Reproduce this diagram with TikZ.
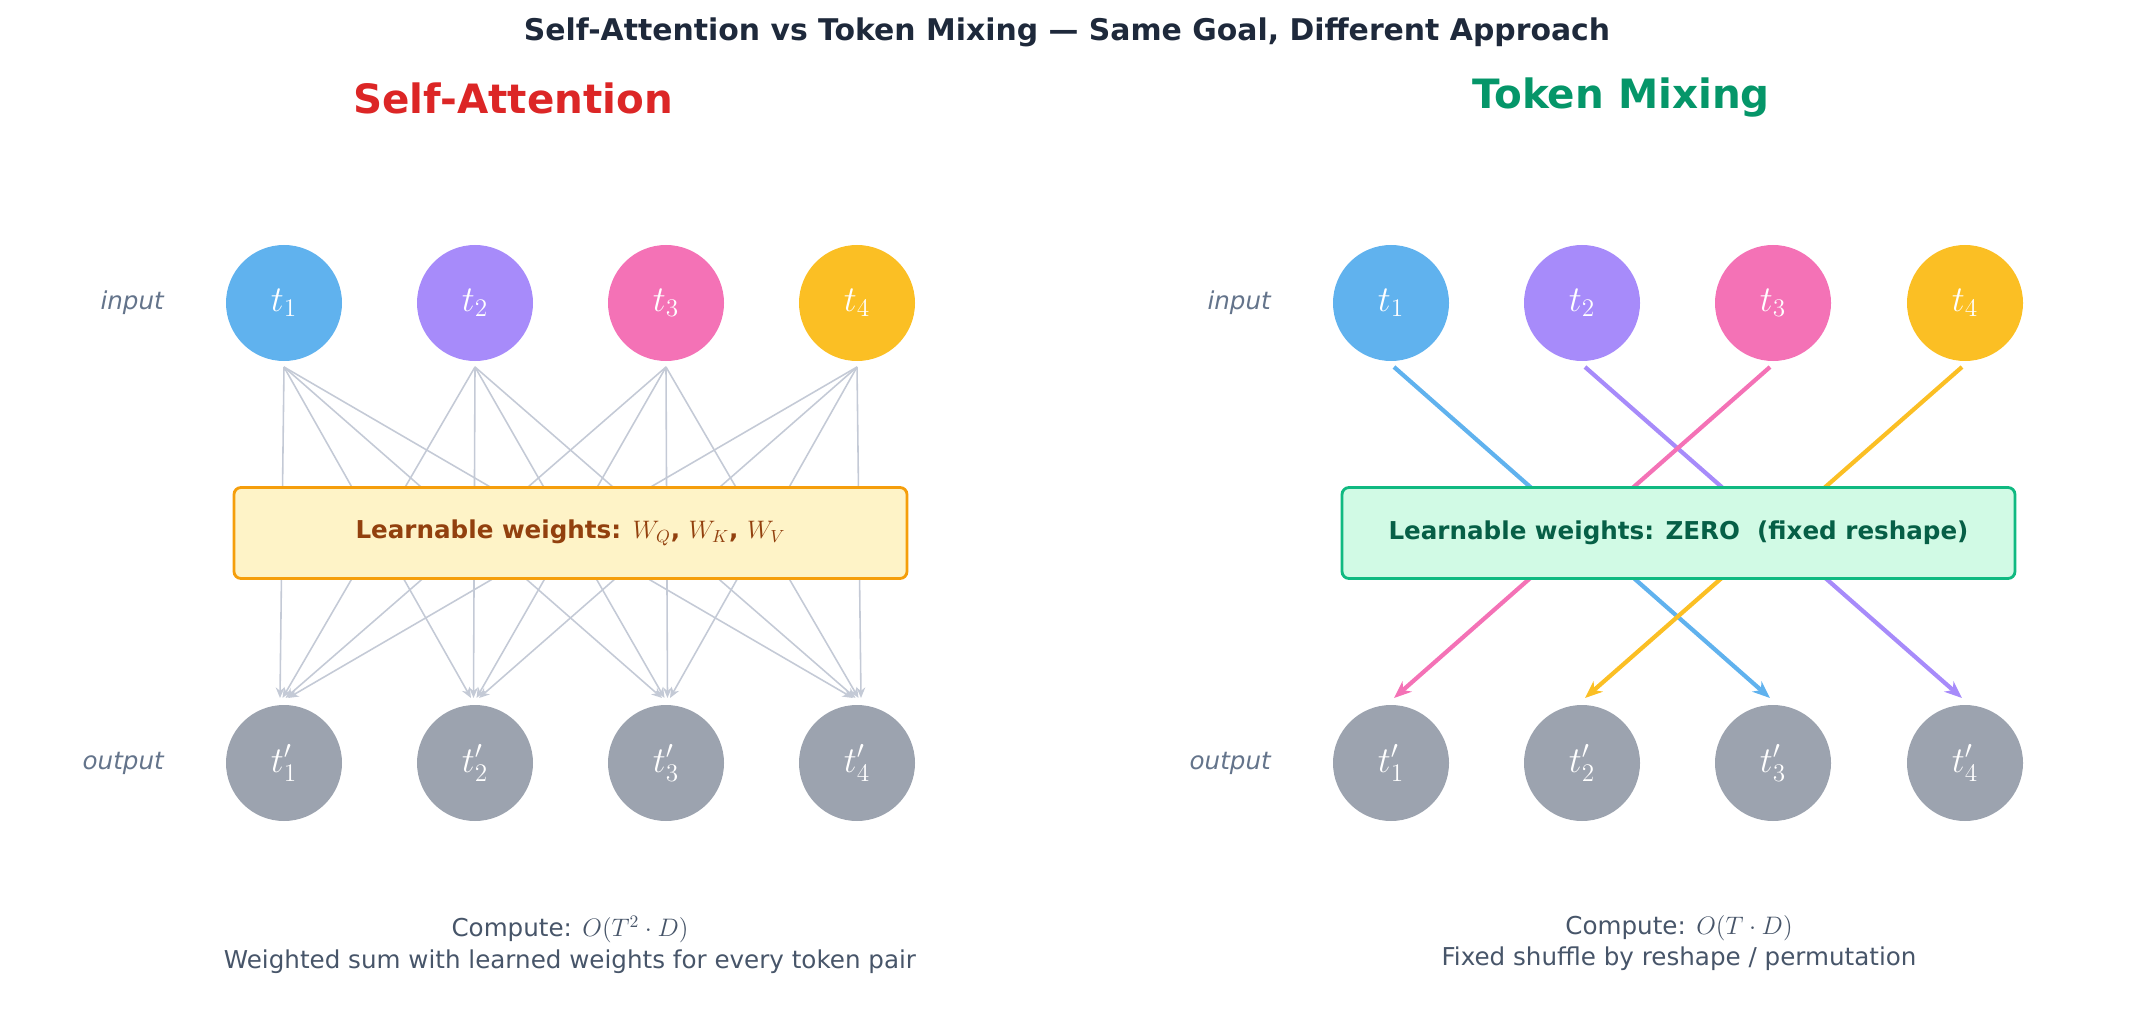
\documentclass[tikz,border=0pt]{standalone}
\usepackage{fontspec}
\setmainfont{DejaVu Sans}
\usetikzlibrary{arrows.meta,calc}
\definecolor{cA}{HTML}{60B2EE}
\definecolor{cB}{HTML}{A78BFA}
\definecolor{cC}{HTML}{F472B6}
\definecolor{cD}{HTML}{FBBF24}
\definecolor{cO}{HTML}{9CA3AF}
\definecolor{lbl}{HTML}{64748B}
\definecolor{ttl}{HTML}{1E293B}
\definecolor{bot}{HTML}{475569}
\definecolor{ln}{HTML}{C4CAD6}
\definecolor{hred}{HTML}{DC2626}
\definecolor{hgrn}{HTML}{059669}
\definecolor{yb}{HTML}{F59E0B}
\definecolor{yf}{HTML}{FEF3C7}
\definecolor{yt}{HTML}{92400E}
\definecolor{gb}{HTML}{10B981}
\definecolor{gf}{HTML}{D1FAE5}
\definecolor{gt}{HTML}{065F46}
\tikzset{
 tok/.style={circle,minimum size=116*0.02cm,inner sep=0pt,text=white,font=\fontsize{21}{24}\selectfont},
 side/.style={anchor=east,text=lbl,font=\fontsize{14}{16}\selectfont\itshape},
 thin/.style={ln,line width=0.9pt,-{Stealth[length=6pt,width=5pt]}},
 thick/.style={line width=2.4pt,-{Stealth[length=10pt,width=8pt]}},
 note/.style={text=bot,font=\fontsize{14}{18}\selectfont,align=center},
 wbox/.style={line width=1.6pt,rounded corners=4pt,minimum width=673*0.02cm,minimum height=91*0.02cm,font=\fontsize{14}{16}\selectfont\bfseries}
}
\begin{document}
\begin{tikzpicture}[x=0.02cm,y=-0.02cm]
\useasboundingbox (0,0) rectangle (2134,1027);
\node[text=ttl,font=\fontsize{17}{20}\selectfont\bfseries] (title) at (1067,32) {Self-Attention vs Token Mixing — Same Goal, Different Approach};
\node[text=hred,font=\fontsize{23}{26}\selectfont\bfseries] (hl) at (513,98) {Self-Attention};
\node[text=hgrn,font=\fontsize{23}{26}\selectfont\bfseries] (hr) at (1621,98) {Token Mixing};
% left
\foreach \i/\x/\c in {1/284/cA,2/475/cB,3/666/cC,4/857/cD}{
 \node[tok,fill=\c] (a\i) at (\x,303) {$t_{\i}$};
 \node[tok,fill=cO] (b\i) at (\x,763) {$t'_{\i}$};
 \coordinate (as\i) at (\x,367);
}
\foreach \i/\x in {1/284,2/475,3/666,4/857}{
 \foreach \j/\d in {1/-8,2/-3,3/3,4/8}{
  \coordinate (e\i\j) at (\x+\d*0.5,698);
 }
}
\foreach \i in {1,...,4}{\foreach \j in {1,...,4}{\draw[thin] (as\i) -- (e\j\i);}}
\node[side] (inl) at (170,303) {input};
\node[side] (outl) at (170,763) {output};
\node[wbox,draw=yb,fill=yf,text=yt] (bl) at (570.5,533) {Learnable weights: $W_Q$, $W_K$, $W_V$};
\node[note] (nl) at (570,945) {Compute: $O(T^2\cdot D)$\\Weighted sum with learned weights for every token pair};
% right
\foreach \i/\x/\c in {1/1391/cA,2/1582/cB,3/1773/cC,4/1965/cD}{
 \node[tok,fill=\c] (c\i) at (\x,303) {$t_{\i}$};
 \node[tok,fill=cO] (d\i) at (\x,763) {$t'_{\i}$};
 \coordinate (cs\i) at (\x,367);
 \coordinate (de\i) at (\x,698);
}
\draw[thick,cA] ($(cs1)+(3,0)$) -- ($(de3)+(-3,0)$);
\draw[thick,cB] ($(cs2)+(3,0)$) -- ($(de4)+(-3,0)$);
\draw[thick,cC] ($(cs3)+(-3,0)$) -- ($(de1)+(3,0)$);
\draw[thick,cD] ($(cs4)+(-3,0)$) -- ($(de2)+(3,0)$);
\node[side] (inr) at (1277,303) {input};
\node[side] (outr) at (1277,763) {output};
\node[wbox,draw=gb,fill=gf,text=gt] (br) at (1678.5,533) {Learnable weights: ZERO\ \ (fixed reshape)};
\node[note] (nr) at (1679,943) {Compute: $O(T\cdot D)$\\Fixed shuffle by reshape / permutation};
\end{tikzpicture}
\end{document}
